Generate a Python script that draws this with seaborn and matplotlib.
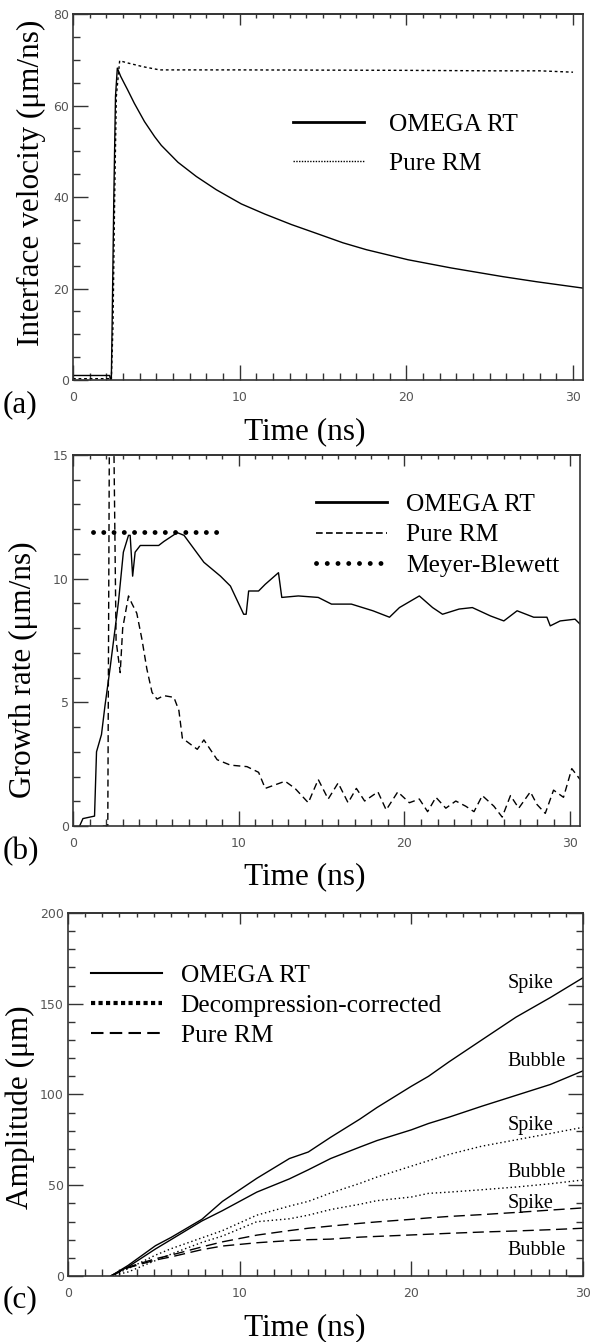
import numpy as np
import pandas as pd
import seaborn as sns
import matplotlib.pyplot as plt
from matplotlib.lines import Line2D
from matplotlib.ticker import MultipleLocator

# ---------------- data ----------------
# (a) interface velocity, um/ns
a_omega_t = [0, 2.2, 2.25, 2.3, 2.35, 2.45, 2.55, 2.66, 2.86, 3.07, 3.27, 3.68, 4.29, 4.9,
             5.3, 6.3, 7.4, 8.6, 10.1, 11.5, 13.1, 14.5, 16.2, 17.6, 20.1, 22.7, 25.8,
             27.8, 30.6]
a_omega_v = [1.0, 1.0, 0.0, 0.0, 12.5, 40, 62, 68.2, 66.4, 64.9, 63.5, 60.5, 56.5, 53.2,
             51.3, 47.6, 44.5, 41.6, 38.5, 36.3, 34.0, 32.2, 30.0, 28.5, 26.3, 24.5, 22.6,
             21.5, 20.1]
a_rm_t = [0, 2.2, 2.3, 2.4, 2.5, 2.6, 2.8, 3.3, 4.2, 5.2, 10, 20, 25, 28, 30.0]
a_rm_v = [0.3, 0.3, 0.0, 12, 40, 62, 69.8, 69.3, 68.5, 67.8, 67.8, 67.7, 67.6, 67.6, 67.3]

# (b) growth rate, um/ns
b_omega_t = [0.4, 0.6, 1.3, 1.42, 1.72, 1.93, 2.23, 2.74, 3.04, 3.35, 3.45, 3.6, 3.75, 4.06,
             5.17, 5.48, 6.29, 6.7, 7.9, 8.9, 9.5, 10.3, 10.45, 10.6, 11.2, 11.6, 12.4, 12.6,
             13.6, 14.8, 15.6, 16.8, 18.1, 19.1, 19.7, 20.9, 21.7, 22.3, 23.3, 24.1, 25.2,
             26.0, 26.8, 27.8, 28.6, 28.8, 29.4, 30.3, 30.6]
b_omega_v = [0.0, 0.3, 0.4, 3.0, 3.7, 4.86, 6.34, 9.03, 11.07, 11.75, 11.75, 10.1, 11.07, 11.34,
             11.34, 11.5, 11.86, 11.75, 10.66, 10.1, 9.7, 8.56, 8.56, 9.5, 9.5, 9.77, 10.24, 9.24,
             9.3, 9.24, 8.97, 8.97, 8.7, 8.44, 8.83, 9.3, 8.83, 8.56, 8.77, 8.83, 8.49,
             8.29, 8.7, 8.44, 8.44, 8.09, 8.29, 8.36, 8.16]
b_rm_t = [1.8, 2.1, 2.2, 2.45, 2.6, 2.85, 3.0, 3.35, 3.55, 3.85, 4.16, 4.46, 4.77, 5.07, 5.48,
          6.09, 6.39, 6.6, 6.9, 7.5, 7.9, 8.7, 9.5, 10.5, 11.2, 11.6, 12.8, 13.4, 14.2, 14.8,
          15.4, 16.0, 16.6, 17.1, 17.6, 18.4, 18.9, 19.6, 20.3, 20.9, 21.4, 21.9, 22.5, 23.1,
          23.7, 24.2, 24.7, 25.4, 25.9, 26.4, 26.9, 27.6, 28.0, 28.5, 29.0, 29.6, 30.1, 30.6]
b_rm_v = [0.0, 0.0, 16.5, 16.5, 7.5, 6.2, 8.0, 9.3, 9.0, 8.6, 7.55, 6.34, 5.4, 5.13, 5.27,
          5.2, 4.67, 3.55, 3.4, 3.1, 3.48, 2.68, 2.46, 2.4, 2.17, 1.52, 1.81, 1.52, 0.94, 1.88,
          1.09, 1.74, 0.94, 1.52, 1.01, 1.38, 0.65, 1.38, 0.94, 1.09, 0.58, 1.16, 0.72, 1.01,
          0.8, 0.58, 1.23, 0.8, 0.36, 1.23, 0.72, 1.38, 0.87, 0.51, 1.45, 1.16, 2.32, 1.88]
b_mb_t = [1.2, 8.8]
b_mb_v = [11.9, 11.9]

# (c) amplitude, um
c_t = [2.5, 3.5, 5.1, 6.0, 7.8, 9.0, 11.0, 12.9, 14.0, 15.3, 17.0, 18.0, 20.0, 21.0,
       22.2, 24.1, 26.1, 28.1, 30.0]
c_omega_spike = [0, 5.8, 16.7, 21.2, 31.2, 41.1, 53.8, 64.7, 68.3, 76.4, 86.4, 92.8, 104.5,
                 110, 118, 130, 142.6, 153.4, 164.3]
c_omega_bubble = [0, 5.0, 14.9, 20.0, 30.3, 36.0, 46.2, 53.5, 58.5, 64.7, 71.0, 74.6, 80.5,
                  84.0, 87.5, 93.5, 99.5, 105.5, 113.0]
c_dec_spike = [0, 4.0, 11.5, 15.0, 21.0, 25.0, 33.5, 38.5, 41.1, 45.7, 51.0, 54.5, 60.5,
               63.5, 67.0, 71.5, 75.0, 78.5, 81.9]
c_dec_bubble = [0, 2.2, 8.5, 12.0, 18.5, 22.0, 29.9, 31.5, 33.5, 36.6, 39.5, 41.5, 43.5,
                45.5, 46.2, 47.5, 49.0, 50.8, 52.9]
c_rm_spike = [0, 4.9, 9.5, 11.5, 16.0, 18.8, 22.5, 25.0, 26.3, 27.5, 29.0, 29.8, 31.2,
              32.0, 32.8, 33.8, 35.0, 36.3, 37.5]
c_rm_bubble = [0, 4.5, 8.8, 10.5, 14.5, 16.5, 18.3, 19.5, 20.0, 20.3, 21.4, 21.8, 22.6,
               23.0, 23.5, 24.2, 24.8, 25.5, 26.3]
c_tags = ['Spike', 'Bubble', 'Spike', 'Bubble', 'Spike', 'Bubble']
c_tag_y = [161, 118, 83, 57, 40, 14]

legend_a = ['OMEGA RT', 'Pure RM']
legend_b = ['OMEGA RT', 'Pure RM', 'Meyer-Blewett']
legend_c = ['OMEGA RT', 'Decompression-corrected', 'Pure RM']

# ---------------- figure ----------------
plt.rcParams['font.family'] = 'DejaVu Sans'
SERIF = 'Liberation Serif'
BIG = 22.5
LEG = 18.3

fig = plt.figure(figsize=(5.91, 13.42), dpi=100)
ax_a = fig.add_axes([0.1235, 0.7168, 0.863, 0.2727])
ax_b = fig.add_axes([0.1235, 0.3845, 0.858, 0.2765])
ax_c = fig.add_axes([0.115, 0.0492, 0.8714, 0.2705])


def draw(ax, t, v, **kw):
    sns.lineplot(x=t, y=v, ax=ax, color='black', estimator=None, sort=False, **kw)


def style(ax, xmax, ymax, ymaj, ymin, right=False):
    ax.set_xlim(0, xmax)
    ax.set_ylim(0, ymax)
    ax.xaxis.set_major_locator(MultipleLocator(10))
    ax.xaxis.set_minor_locator(MultipleLocator(1))
    ax.yaxis.set_major_locator(MultipleLocator(ymaj))
    ax.yaxis.set_minor_locator(MultipleLocator(ymin))
    ax.tick_params(which='both', direction='in', color='#333', labelcolor='#555',
                   labelsize=9, width=1)
    ax.tick_params(which='major', length=11)
    ax.tick_params(which='minor', length=5)
    ax.tick_params(axis='x', pad=8)
    ax.tick_params(axis='y', pad=3)
    ax.tick_params(right=right, which='both')
    for s in ax.spines.values():
        s.set_color('#333')
        s.set_linewidth(1.2)
    top = ax.secondary_xaxis('top')
    top.xaxis.set_major_locator(MultipleLocator(10))
    top.xaxis.set_minor_locator(MultipleLocator(1))
    top.tick_params(which='both', direction='in', color='#333', labeltop=False, width=1)
    top.tick_params(which='major', length=8)
    top.tick_params(which='minor', length=3)
    top.spines['top'].set_color('#333')
    top.spines['top'].set_linewidth(1.2)
    ax.set_xlabel('')
    ax.set_ylabel('')


# ---- (a)
draw(ax_a, a_omega_t, a_omega_v, linewidth=1.0)
draw(ax_a, a_rm_t, a_rm_v, linewidth=1.0, linestyle=(0, (2, 2)))
style(ax_a, 30.6, 80, 20, 5)
ax_a.legend([Line2D([], [], color='k', lw=2), Line2D([], [], color='k', lw=1, ls=(0, (1, 1)))],
            legend_a, loc='center left', bbox_to_anchor=(0.431, 0.645), frameon=False,
            prop={'family': SERIF, 'size': LEG}, handlelength=2.8, handletextpad=1.0,
            labelspacing=0.62, borderpad=0, borderaxespad=0)

# ---- (b)
draw(ax_b, b_omega_t, b_omega_v, linewidth=1.0)
draw(ax_b, b_rm_t, b_rm_v, linewidth=1.0, linestyle=(0, (5, 3)))
draw(ax_b, b_mb_t, b_mb_v, linewidth=3.5, linestyle=(0, (0.01, 2.1)), dash_capstyle='round')
style(ax_b, 30.6, 15, 5, 1)
ax_b.legend([Line2D([], [], color='k', lw=2),
             Line2D([], [], color='k', lw=1.2, ls=(0, (4, 2))),
             Line2D([], [], color='k', lw=3.5, ls=(0, (0.01, 2.2)), dash_capstyle='round')],
            legend_b, loc='center left', bbox_to_anchor=(0.479, 0.784), frameon=False,
            prop={'family': SERIF, 'size': LEG}, handlelength=2.8, handletextpad=0.76,
            labelspacing=0.3, borderpad=0, borderaxespad=0)

# ---- (c)
draw(ax_c, c_t, c_omega_spike, linewidth=1.0)
draw(ax_c, c_t, c_omega_bubble, linewidth=1.0)
draw(ax_c, c_t, c_dec_spike, linewidth=1.0, linestyle=(0, (1, 2)))
draw(ax_c, c_t, c_dec_bubble, linewidth=1.0, linestyle=(0, (1, 2)))
draw(ax_c, c_t, c_rm_spike, linewidth=1.0, linestyle=(0, (8, 4)))
draw(ax_c, c_t, c_rm_bubble, linewidth=1.0, linestyle=(0, (8, 4)))
style(ax_c, 30, 200, 50, 10, right=True)
for tag, yv in zip(c_tags, c_tag_y):
    ax_c.text(25.6, yv, tag, family=SERIF, fontsize=14.5, va='center', ha='left')
ax_c.legend([Line2D([], [], color='k', lw=1.5),
             Line2D([], [], color='k', lw=3, ls=(0, (1, 0.8))),
             Line2D([], [], color='k', lw=1.5, ls=(0, (6, 3)))],
            legend_c, loc='center left', bbox_to_anchor=(0.045, 0.745), frameon=False,
            prop={'family': SERIF, 'size': LEG}, handlelength=2.8, handletextpad=0.72,
            labelspacing=0.3, borderpad=0, borderaxespad=0)

# ---- labels
ylabels = ['Interface velocity (\u03bcm/ns)', 'Growth rate (\u03bcm/ns)', 'Amplitude (\u03bcm)']
ycoords = [(-0.082, 0.538), (-0.097, 0.42), (-0.093, 0.466)]
xcoords = [(0.455, -0.142), (0.4576, -0.137), (0.46, -0.143)]
for ax, lab, yc, xc in zip([ax_a, ax_b, ax_c], ylabels, ycoords, xcoords):
    ax.set_ylabel(lab, family=SERIF, fontsize=BIG, va='center')
    ax.yaxis.set_label_coords(*yc)
    ax.set_xlabel('Time (ns)', family=SERIF, fontsize=BIG, va='center')
    ax.xaxis.set_label_coords(*xc)

for letter, ypx in zip(['(a)', '(b)', '(c)'], [405, 852, 1300]):
    fig.text(3 / 591, 1 - ypx / 1342, letter, family=SERIF, fontsize=BIG, va='center', ha='left')

fig.savefig('out.png', dpi=100)
